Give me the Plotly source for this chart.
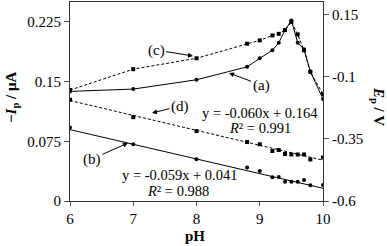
import plotly.graph_objects as go

# ---- data ----
ph_peak = [6, 7, 8, 8.8, 9.0, 9.2, 9.3, 9.4, 9.5, 9.6, 9.7, 9.8, 10]
ip_a = [0.1377, 0.1406, 0.1523, 0.1685, 0.1793, 0.1893, 0.1988, 0.2147, 0.2268, 0.1988, 0.1906, 0.1626, 0.1282]
ip_c = [0.1394, 0.1656, 0.1793, 0.1976, 0.2018, 0.2080, 0.2100, 0.2147, 0.2250, 0.2093, 0.1893, 0.1622, 0.1344]
ep_b = [-0.305, -0.372, -0.432, -0.465, -0.479, -0.505, -0.504, -0.523, -0.523, -0.523, -0.516, -0.537, -0.536]
ep_d = [-0.193, -0.263, -0.319, -0.363, -0.372, -0.399, -0.395, -0.411, -0.413, -0.413, -0.413, -0.433, -0.425]

fit_range = [6, 10]
slope_b, icpt_b, r2_b = -0.059, 0.041, 0.988
slope_d, icpt_d, r2_d = -0.060, 0.164, 0.991

x_ticks = [6, 7, 8, 9, 10]
y_left_ticks = [0, 0.075, 0.15, 0.225]
y_left_text = ["0", "0.075", "0.15", "0.225"]
y_right_ticks = [-0.6, -0.35, -0.1, 0.15]
y_right_text = ["-0.6", "-0.35", "-0.1", "0.15"]

FONT = "Liberation Serif, DejaVu Serif, serif"
W, H = 387, 246
ML, MR, MT, MB = 70, 64, 2, 45
PW, PH = W - ML - MR, H - MT - MB

fig = go.Figure()
fig.add_trace(go.Scatter(x=ph_peak, y=ip_a, mode="lines+markers",
                         line=dict(color="black", width=1),
                         marker=dict(symbol="circle", size=4, color="black"),
                         showlegend=False))
fig.add_trace(go.Scatter(x=ph_peak, y=ip_c, mode="lines+markers",
                         line=dict(color="black", width=1, dash="3px,2px"),
                         marker=dict(symbol="square", size=4, color="black"),
                         showlegend=False))
fig.add_trace(go.Scatter(x=ph_peak, y=ep_d, mode="markers", yaxis="y2",
                         marker=dict(symbol="square", size=4, color="black"),
                         showlegend=False))
fig.add_trace(go.Scatter(x=fit_range, y=[slope_d * v + icpt_d for v in fit_range],
                         mode="lines", yaxis="y2",
                         line=dict(color="black", width=1, dash="3px,2px"),
                         showlegend=False))
fig.add_trace(go.Scatter(x=ph_peak, y=ep_b, mode="markers", yaxis="y2",
                         marker=dict(symbol="circle", size=4, color="black"),
                         showlegend=False))
fig.add_trace(go.Scatter(x=fit_range, y=[slope_b * v + icpt_b for v in fit_range],
                         mode="lines", yaxis="y2",
                         line=dict(color="black", width=1),
                         showlegend=False))

def px2x(px):
    return 6 + (px - ML) / PW * 4

def py2y(py):
    return (MT + PH - py) / PH * 0.25

labels = [("(c)", 193, 56, -37, -6), ("(a)", 229, 73, 32, 12),
          ("(d)", 152, 113, 28, -7), ("(b)", 128, 143, -36, 16)]
ann = []
for t, hx, hy, ax, ay in labels:
    ann.append(dict(x=px2x(hx), y=py2y(hy), xref="x", yref="y", text=t,
                    showarrow=True, arrowhead=2, arrowsize=1, arrowwidth=1,
                    arrowcolor="black", ax=ax, ay=ay,
                    font=dict(family=FONT, size=15, color="black")))

eqs = [(f"y = {slope_d:.3f}x + {icpt_d:.3f}", 260, 113),
       (f"<i>R</i>² = {r2_d:.3f}", 260, 128),
       (f"y = {slope_b:.3f}x + {icpt_b:.3f}", 179.5, 175),
       (f"<i>R</i>² = {r2_b:.3f}", 178, 191)]
for t, cx, cy in eqs:
    ann.append(dict(x=px2x(cx), y=py2y(cy), xref="x", yref="y", text=t,
                    showarrow=False, xanchor="center", yanchor="middle",
                    font=dict(family=FONT, size=14.5, color="black")))

ann.append(dict(x=(12 - ML) / PW, y=(MT + PH - 98) / PH, xref="paper", yref="paper",
                text="<b>−<i>I</i><sub>p</sub> / μA</b>", textangle=-90,
                showarrow=False, xanchor="center", yanchor="middle",
                font=dict(family=FONT, size=15, color="black")))
ann.append(dict(x=(378 - ML) / PW, y=(MT + PH - 106) / PH, xref="paper", yref="paper",
                text="<b><i>E</i><sub>p</sub> / V</b>", textangle=90,
                showarrow=False, xanchor="center", yanchor="middle",
                font=dict(family=FONT, size=15, color="black")))
ann.append(dict(x=(195 - ML) / PW, y=(MT + PH - 236) / PH, xref="paper", yref="paper",
                text="<b>pH</b>", showarrow=False, xanchor="center", yanchor="middle",
                font=dict(family=FONT, size=15, color="black")))

fig.update_layout(
    width=W, height=H,
    margin=dict(l=ML, r=MR, t=MT, b=MB, pad=0),
    paper_bgcolor="white", plot_bgcolor="white",
    font=dict(family=FONT, size=15, color="black"),
    xaxis=dict(range=[6, 10], tickvals=x_ticks, ticks="outside", ticklen=4,
               tickcolor="#555", showline=True, linecolor="#333", linewidth=1,
               mirror=True, showgrid=False, zeroline=False,
               tickfont=dict(family=FONT, size=15, color="black")),
    yaxis=dict(range=[0, 0.25], tickvals=y_left_ticks, ticktext=y_left_text,
               ticks="outside", ticklen=5, tickcolor="#555", showline=True,
               linecolor="#333", linewidth=1, showgrid=False, zeroline=False,
               tickfont=dict(family=FONT, size=15, color="black")),
    yaxis2=dict(range=[-0.6, 0.2], tickvals=y_right_ticks, ticktext=y_right_text,
                overlaying="y", side="right", ticks="outside", ticklen=5,
                tickcolor="#555", showline=True, linecolor="#333", linewidth=1,
                showgrid=False, zeroline=False,
                tickfont=dict(family=FONT, size=15, color="black")),
    annotations=ann,
    showlegend=False,
)

fig.write_html("out.html", config={"displayModeBar": False},
               post_script="document.body.style.margin='0';document.body.style.padding='0';")
